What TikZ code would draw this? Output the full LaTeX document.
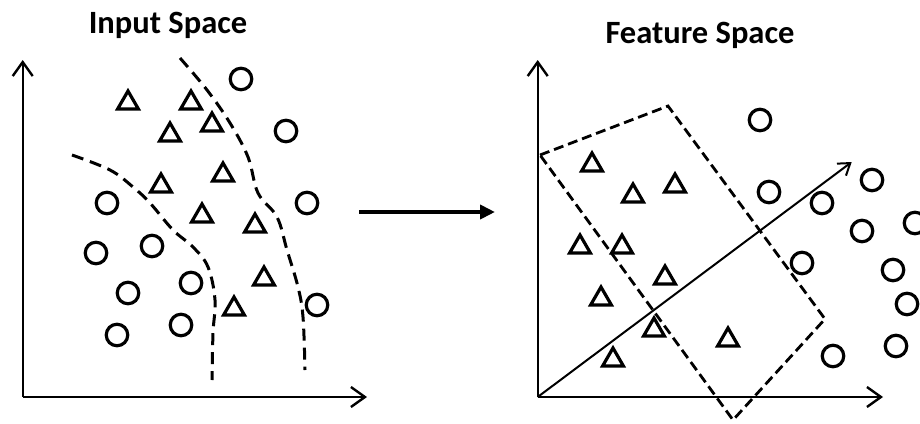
\documentclass[tikz,border=0pt]{standalone}
\usepackage{fontspec}
\setmainfont{Carlito}
\usetikzlibrary{arrows.meta,shapes.geometric}
\begin{document}
\begin{tikzpicture}[x=1pt,y=-1pt,
  tri/.style={draw, regular polygon, regular polygon sides=3, minimum size=24pt, inner sep=0pt, line width=3.2pt, yshift=-3pt},
  circ/.style={draw, circle, minimum size=21.5pt, inner sep=0pt, line width=3.2pt},
  axis/.style={line width=2.4pt, -{Straight Barb[length=14pt,width=20pt]}},
  boundary/.style={line width=3pt, dash pattern=on 12pt off 7pt},
  title/.style={font=\bfseries\fontsize{32.5}{38}\selectfont, anchor=base, inner sep=0pt}]
\clip (0,0) rectangle (920,423);
\fill[white] (0,0) rectangle (920,423);
% titles
\node[title] (ti1) at (168,33) {Input Space};
\node[title] (ti2) at (700,43) {Feature Space};
% left axes
\coordinate (O1) at (22.7,397);
\coordinate (Y1) at (22.7,60);
\coordinate (X1) at (367,397);
\draw[axis] (O1) -- (Y1);
\draw[axis] (O1) -- (X1);
% left boundaries
\draw[boundary] plot[smooth, tension=0.6] coordinates {(72,155) (110,170) (133,187) (150,203) (173,230) (193,247) (208,267) (215,300) (213,333) (212,380)};
\draw[boundary] plot[smooth, tension=0.6] coordinates {(180,58) (207,90) (230,123) (248,157) (258,193) (277,217) (287,250) (298,287) (303,317) (305,370)};
% left triangles
\node[tri] (lt1) at (128,100) {};
\node[tri] (lt2) at (191,100) {};
\node[tri] (lt3) at (212,122) {};
\node[tri] (lt4) at (170,132) {};
\node[tri] (lt5) at (223,172) {};
\node[tri] (lt6) at (161,183) {};
\node[tri] (lt7) at (202,213) {};
\node[tri] (lt8) at (255,223) {};
\node[tri] (lt9) at (264,276) {};
\node[tri] (lt10) at (234,306) {};
% left circles
\node[circ] (lc1) at (241,79) {};
\node[circ] (lc2) at (286,131) {};
\node[circ] (lc3) at (107,203) {};
\node[circ] (lc4) at (307,203) {};
\node[circ] (lc5) at (152,246) {};
\node[circ] (lc6) at (96,253) {};
\node[circ] (lc7) at (128,293) {};
\node[circ] (lc8) at (191,283) {};
\node[circ] (lc9) at (317,305) {};
\node[circ] (lc10) at (117,335) {};
\node[circ] (lc11) at (181,325) {};
% middle arrow
\coordinate (ms) at (359,212);
\coordinate (me) at (495,212);
\draw[line width=4.5pt, -{Triangle[length=15pt,width=14pt]}] (ms) -- (me);
% right axes
\coordinate (O2) at (537.7,397);
\coordinate (Y2) at (537.7,60);
\coordinate (X2) at (883,397);
\coordinate (D2) at (851.7,162);
\draw[axis] (O2) -- (Y2);
\draw[axis] (O2) -- (X2);
\draw[line width=2pt, -{Straight Barb[length=11pt,width=15pt]}] (O2) -- (D2);
% dashed box
\coordinate (r1) at (540,155);
\coordinate (r2) at (668,106);
\coordinate (r3) at (825,319);
\coordinate (r4) at (733,420);
\draw[line width=2.8pt, dash pattern=on 10pt off 5pt] (r1) -- (r2) -- (r3) -- (r4) -- cycle;
% right triangles
\node[tri] (rt1) at (592,162) {};
\node[tri] (rt2) at (633,193) {};
\node[tri] (rt3) at (675,183) {};
\node[tri] (rt4) at (580,244) {};
\node[tri] (rt5) at (622,244) {};
\node[tri] (rt6) at (665,275) {};
\node[tri] (rt7) at (601,296) {};
\node[tri] (rt8) at (654,327) {};
\node[tri] (rt9) at (728,337) {};
\node[tri] (rt10) at (613,357) {};
% right circles
\node[circ] (rc1) at (760,120) {};
\node[circ] (rc2) at (769,192) {};
\node[circ] (rc3) at (872,180) {};
\node[circ] (rc4) at (822,203) {};
\node[circ] (rc5) at (862,231) {};
\node[circ] (rc6) at (915,223) {};
\node[circ] (rc7) at (802,263) {};
\node[circ] (rc8) at (893,270) {};
\node[circ] (rc9) at (907,304) {};
\node[circ] (rc10) at (896,346) {};
\node[circ] (rc11) at (833,356) {};
\end{tikzpicture}
\end{document}
